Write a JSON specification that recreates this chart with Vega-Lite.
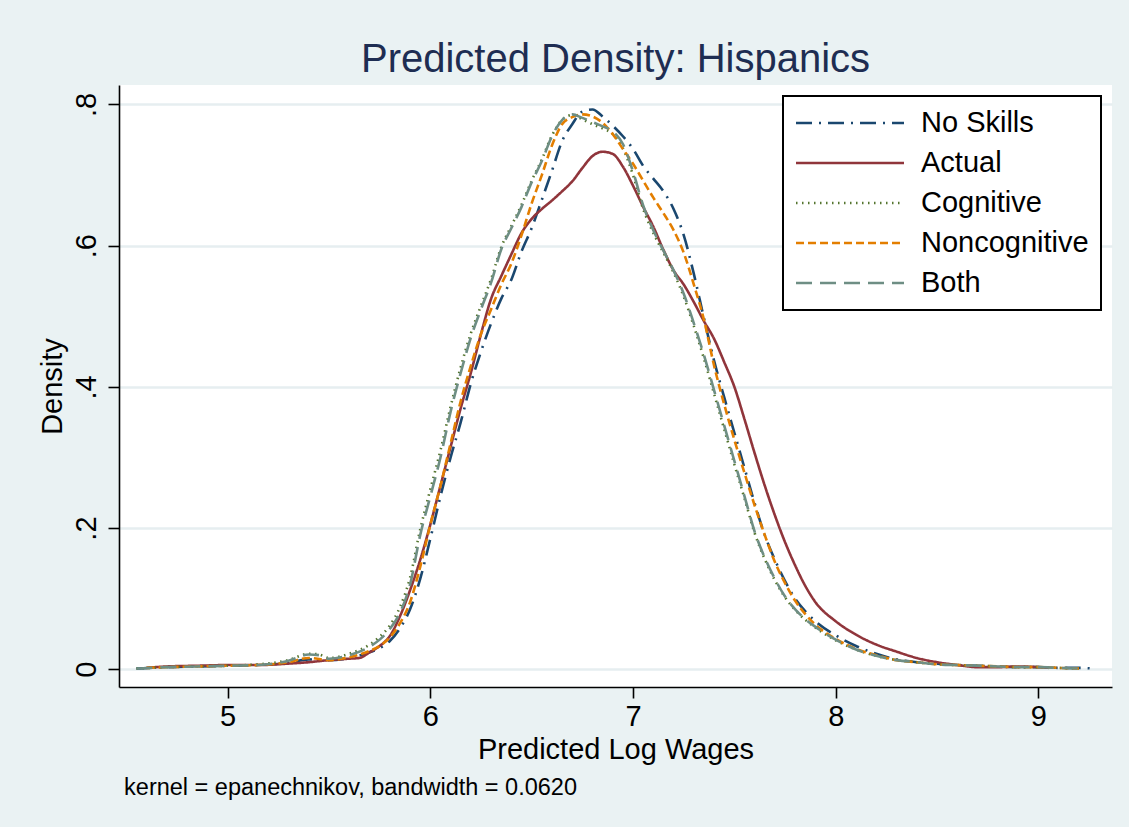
{
  "$schema": "https://vega.github.io/schema/vega-lite/v6.json",
  "width": 993,
  "height": 602,
  "autosize": {"type": "none"},
  "padding": {"left": 119, "top": 85, "right": 17, "bottom": 140},
  "background": "#EAF2F3",
  "config": {
    "font": "Liberation Sans",
    "view": {"fill": "white", "stroke": null},
    "axis": {"labelFontSize": 29, "titleFontSize": 29, "labelColor": "black", "titleColor": "black", "titleFontWeight": "normal", "domainColor": "black", "tickColor": "black", "domainWidth": 1.6, "tickWidth": 1.6, "tickSize": 11},
    "legend": {"strokeWidth": 2}
  },
  "title": {"text": "Predicted Density: Hispanics", "fontSize": 40, "fontWeight": "normal", "color": "#1E2D52", "anchor": "middle", "offset": 5},
  "layer": [
    {
      "data": {"values": [
    {"s":"No Skills","x":4.55,"y":0.001},{"s":"No Skills","x":4.7,"y":0.003},{"s":"No Skills","x":4.85,"y":0.004},{"s":"No Skills","x":5.0,"y":0.005},{"s":"No Skills","x":5.15,"y":0.006},{"s":"No Skills","x":5.3,"y":0.009},{"s":"No Skills","x":5.4,"y":0.014},{"s":"No Skills","x":5.5,"y":0.013},{"s":"No Skills","x":5.6,"y":0.016},{"s":"No Skills","x":5.7,"y":0.024},{"s":"No Skills","x":5.75,"y":0.03},{"s":"No Skills","x":5.8,"y":0.04},{"s":"No Skills","x":5.85,"y":0.058},{"s":"No Skills","x":5.9,"y":0.085},{"s":"No Skills","x":5.95,"y":0.128},{"s":"No Skills","x":6.0,"y":0.185},{"s":"No Skills","x":6.05,"y":0.245},{"s":"No Skills","x":6.1,"y":0.3},{"s":"No Skills","x":6.15,"y":0.35},{"s":"No Skills","x":6.2,"y":0.405},{"s":"No Skills","x":6.25,"y":0.45},{"s":"No Skills","x":6.3,"y":0.49},{"s":"No Skills","x":6.35,"y":0.525},{"s":"No Skills","x":6.4,"y":0.552},{"s":"No Skills","x":6.45,"y":0.592},{"s":"No Skills","x":6.5,"y":0.625},{"s":"No Skills","x":6.55,"y":0.665},{"s":"No Skills","x":6.6,"y":0.706},{"s":"No Skills","x":6.65,"y":0.748},{"s":"No Skills","x":6.7,"y":0.772},{"s":"No Skills","x":6.75,"y":0.79},{"s":"No Skills","x":6.8,"y":0.793},{"s":"No Skills","x":6.85,"y":0.783},{"s":"No Skills","x":6.9,"y":0.77},{"s":"No Skills","x":6.95,"y":0.755},{"s":"No Skills","x":7.0,"y":0.737},{"s":"No Skills","x":7.05,"y":0.713},{"s":"No Skills","x":7.1,"y":0.695},{"s":"No Skills","x":7.15,"y":0.677},{"s":"No Skills","x":7.2,"y":0.652},{"s":"No Skills","x":7.25,"y":0.615},{"s":"No Skills","x":7.3,"y":0.56},{"s":"No Skills","x":7.35,"y":0.497},{"s":"No Skills","x":7.4,"y":0.437},{"s":"No Skills","x":7.45,"y":0.385},{"s":"No Skills","x":7.5,"y":0.335},{"s":"No Skills","x":7.55,"y":0.285},{"s":"No Skills","x":7.6,"y":0.235},{"s":"No Skills","x":7.65,"y":0.19},{"s":"No Skills","x":7.7,"y":0.155},{"s":"No Skills","x":7.75,"y":0.125},{"s":"No Skills","x":7.8,"y":0.1},{"s":"No Skills","x":7.85,"y":0.082},{"s":"No Skills","x":7.9,"y":0.068},{"s":"No Skills","x":8.0,"y":0.048},{"s":"No Skills","x":8.1,"y":0.033},{"s":"No Skills","x":8.2,"y":0.022},{"s":"No Skills","x":8.3,"y":0.014},{"s":"No Skills","x":8.4,"y":0.01},{"s":"No Skills","x":8.5,"y":0.008},{"s":"No Skills","x":8.6,"y":0.006},{"s":"No Skills","x":8.7,"y":0.005},{"s":"No Skills","x":8.8,"y":0.004},{"s":"No Skills","x":8.9,"y":0.003},{"s":"No Skills","x":9.0,"y":0.003},{"s":"No Skills","x":9.1,"y":0.002},{"s":"No Skills","x":9.2,"y":0.002},{"s":"No Skills","x":9.27,"y":0.001},

    {"s":"Actual","x":4.6,"y":0.002},{"s":"Actual","x":4.7,"y":0.004},{"s":"Actual","x":4.85,"y":0.005},{"s":"Actual","x":5.0,"y":0.006},{"s":"Actual","x":5.15,"y":0.006},{"s":"Actual","x":5.3,"y":0.008},{"s":"Actual","x":5.4,"y":0.01},{"s":"Actual","x":5.5,"y":0.013},{"s":"Actual","x":5.6,"y":0.015},{"s":"Actual","x":5.65,"y":0.016},{"s":"Actual","x":5.7,"y":0.024},{"s":"Actual","x":5.75,"y":0.033},{"s":"Actual","x":5.8,"y":0.047},{"s":"Actual","x":5.85,"y":0.075},{"s":"Actual","x":5.9,"y":0.112},{"s":"Actual","x":5.95,"y":0.155},{"s":"Actual","x":6.0,"y":0.205},{"s":"Actual","x":6.05,"y":0.26},{"s":"Actual","x":6.1,"y":0.315},{"s":"Actual","x":6.15,"y":0.37},{"s":"Actual","x":6.2,"y":0.42},{"s":"Actual","x":6.25,"y":0.475},{"s":"Actual","x":6.3,"y":0.525},{"s":"Actual","x":6.35,"y":0.557},{"s":"Actual","x":6.4,"y":0.588},{"s":"Actual","x":6.45,"y":0.618},{"s":"Actual","x":6.5,"y":0.638},{"s":"Actual","x":6.55,"y":0.652},{"s":"Actual","x":6.6,"y":0.664},{"s":"Actual","x":6.65,"y":0.677},{"s":"Actual","x":6.7,"y":0.691},{"s":"Actual","x":6.75,"y":0.71},{"s":"Actual","x":6.8,"y":0.727},{"s":"Actual","x":6.85,"y":0.733},{"s":"Actual","x":6.9,"y":0.73},{"s":"Actual","x":6.95,"y":0.712},{"s":"Actual","x":7.0,"y":0.685},{"s":"Actual","x":7.05,"y":0.655},{"s":"Actual","x":7.1,"y":0.627},{"s":"Actual","x":7.15,"y":0.594},{"s":"Actual","x":7.2,"y":0.565},{"s":"Actual","x":7.25,"y":0.545},{"s":"Actual","x":7.3,"y":0.52},{"s":"Actual","x":7.35,"y":0.493},{"s":"Actual","x":7.4,"y":0.468},{"s":"Actual","x":7.45,"y":0.435},{"s":"Actual","x":7.5,"y":0.4},{"s":"Actual","x":7.55,"y":0.354},{"s":"Actual","x":7.6,"y":0.306},{"s":"Actual","x":7.65,"y":0.26},{"s":"Actual","x":7.7,"y":0.218},{"s":"Actual","x":7.75,"y":0.18},{"s":"Actual","x":7.8,"y":0.147},{"s":"Actual","x":7.85,"y":0.118},{"s":"Actual","x":7.9,"y":0.095},{"s":"Actual","x":8.0,"y":0.068},{"s":"Actual","x":8.1,"y":0.049},{"s":"Actual","x":8.2,"y":0.035},{"s":"Actual","x":8.3,"y":0.025},{"s":"Actual","x":8.4,"y":0.016},{"s":"Actual","x":8.5,"y":0.01},{"s":"Actual","x":8.6,"y":0.006},{"s":"Actual","x":8.7,"y":0.003},{"s":"Actual","x":8.8,"y":0.003},{"s":"Actual","x":8.9,"y":0.004},{"s":"Actual","x":9.0,"y":0.003},{"s":"Actual","x":9.05,"y":0.002},

    {"s":"Cognitive","x":4.55,"y":0.001},{"s":"Cognitive","x":4.7,"y":0.003},{"s":"Cognitive","x":4.85,"y":0.004},{"s":"Cognitive","x":5.0,"y":0.005},{"s":"Cognitive","x":5.15,"y":0.007},{"s":"Cognitive","x":5.3,"y":0.013},{"s":"Cognitive","x":5.4,"y":0.022},{"s":"Cognitive","x":5.45,"y":0.021},{"s":"Cognitive","x":5.5,"y":0.016},{"s":"Cognitive","x":5.6,"y":0.022},{"s":"Cognitive","x":5.7,"y":0.035},{"s":"Cognitive","x":5.75,"y":0.046},{"s":"Cognitive","x":5.8,"y":0.062},{"s":"Cognitive","x":5.85,"y":0.088},{"s":"Cognitive","x":5.9,"y":0.13},{"s":"Cognitive","x":5.95,"y":0.198},{"s":"Cognitive","x":6.0,"y":0.255},{"s":"Cognitive","x":6.05,"y":0.31},{"s":"Cognitive","x":6.1,"y":0.372},{"s":"Cognitive","x":6.15,"y":0.428},{"s":"Cognitive","x":6.2,"y":0.476},{"s":"Cognitive","x":6.25,"y":0.515},{"s":"Cognitive","x":6.3,"y":0.553},{"s":"Cognitive","x":6.35,"y":0.598},{"s":"Cognitive","x":6.4,"y":0.628},{"s":"Cognitive","x":6.45,"y":0.658},{"s":"Cognitive","x":6.5,"y":0.692},{"s":"Cognitive","x":6.55,"y":0.722},{"s":"Cognitive","x":6.6,"y":0.756},{"s":"Cognitive","x":6.65,"y":0.778},{"s":"Cognitive","x":6.7,"y":0.785},{"s":"Cognitive","x":6.75,"y":0.779},{"s":"Cognitive","x":6.8,"y":0.772},{"s":"Cognitive","x":6.85,"y":0.766},{"s":"Cognitive","x":6.9,"y":0.758},{"s":"Cognitive","x":6.95,"y":0.738},{"s":"Cognitive","x":7.0,"y":0.7},{"s":"Cognitive","x":7.05,"y":0.652},{"s":"Cognitive","x":7.1,"y":0.618},{"s":"Cognitive","x":7.15,"y":0.59},{"s":"Cognitive","x":7.2,"y":0.562},{"s":"Cognitive","x":7.25,"y":0.528},{"s":"Cognitive","x":7.3,"y":0.486},{"s":"Cognitive","x":7.35,"y":0.44},{"s":"Cognitive","x":7.4,"y":0.39},{"s":"Cognitive","x":7.45,"y":0.34},{"s":"Cognitive","x":7.5,"y":0.29},{"s":"Cognitive","x":7.55,"y":0.242},{"s":"Cognitive","x":7.6,"y":0.193},{"s":"Cognitive","x":7.65,"y":0.156},{"s":"Cognitive","x":7.7,"y":0.126},{"s":"Cognitive","x":7.75,"y":0.102},{"s":"Cognitive","x":7.8,"y":0.084},{"s":"Cognitive","x":7.85,"y":0.07},{"s":"Cognitive","x":7.9,"y":0.059},{"s":"Cognitive","x":8.0,"y":0.041},{"s":"Cognitive","x":8.1,"y":0.028},{"s":"Cognitive","x":8.2,"y":0.019},{"s":"Cognitive","x":8.3,"y":0.013},{"s":"Cognitive","x":8.4,"y":0.01},{"s":"Cognitive","x":8.5,"y":0.007},{"s":"Cognitive","x":8.6,"y":0.006},{"s":"Cognitive","x":8.7,"y":0.005},{"s":"Cognitive","x":8.8,"y":0.004},{"s":"Cognitive","x":8.9,"y":0.003},{"s":"Cognitive","x":9.0,"y":0.003},{"s":"Cognitive","x":9.1,"y":0.002},{"s":"Cognitive","x":9.2,"y":0.001},

    {"s":"Noncognitive","x":4.6,"y":0.002},{"s":"Noncognitive","x":4.7,"y":0.003},{"s":"Noncognitive","x":4.85,"y":0.004},{"s":"Noncognitive","x":5.0,"y":0.005},{"s":"Noncognitive","x":5.15,"y":0.006},{"s":"Noncognitive","x":5.3,"y":0.01},{"s":"Noncognitive","x":5.4,"y":0.016},{"s":"Noncognitive","x":5.5,"y":0.013},{"s":"Noncognitive","x":5.6,"y":0.017},{"s":"Noncognitive","x":5.7,"y":0.026},{"s":"Noncognitive","x":5.75,"y":0.033},{"s":"Noncognitive","x":5.8,"y":0.045},{"s":"Noncognitive","x":5.85,"y":0.065},{"s":"Noncognitive","x":5.9,"y":0.095},{"s":"Noncognitive","x":5.95,"y":0.145},{"s":"Noncognitive","x":6.0,"y":0.205},{"s":"Noncognitive","x":6.05,"y":0.26},{"s":"Noncognitive","x":6.1,"y":0.32},{"s":"Noncognitive","x":6.15,"y":0.38},{"s":"Noncognitive","x":6.2,"y":0.43},{"s":"Noncognitive","x":6.25,"y":0.475},{"s":"Noncognitive","x":6.3,"y":0.51},{"s":"Noncognitive","x":6.35,"y":0.545},{"s":"Noncognitive","x":6.4,"y":0.575},{"s":"Noncognitive","x":6.45,"y":0.615},{"s":"Noncognitive","x":6.5,"y":0.66},{"s":"Noncognitive","x":6.55,"y":0.7},{"s":"Noncognitive","x":6.6,"y":0.742},{"s":"Noncognitive","x":6.65,"y":0.772},{"s":"Noncognitive","x":6.7,"y":0.782},{"s":"Noncognitive","x":6.75,"y":0.786},{"s":"Noncognitive","x":6.8,"y":0.783},{"s":"Noncognitive","x":6.85,"y":0.774},{"s":"Noncognitive","x":6.9,"y":0.758},{"s":"Noncognitive","x":6.95,"y":0.737},{"s":"Noncognitive","x":7.0,"y":0.716},{"s":"Noncognitive","x":7.05,"y":0.692},{"s":"Noncognitive","x":7.1,"y":0.668},{"s":"Noncognitive","x":7.15,"y":0.646},{"s":"Noncognitive","x":7.2,"y":0.622},{"s":"Noncognitive","x":7.25,"y":0.59},{"s":"Noncognitive","x":7.3,"y":0.545},{"s":"Noncognitive","x":7.35,"y":0.495},{"s":"Noncognitive","x":7.4,"y":0.43},{"s":"Noncognitive","x":7.45,"y":0.375},{"s":"Noncognitive","x":7.5,"y":0.325},{"s":"Noncognitive","x":7.55,"y":0.278},{"s":"Noncognitive","x":7.6,"y":0.232},{"s":"Noncognitive","x":7.65,"y":0.19},{"s":"Noncognitive","x":7.7,"y":0.152},{"s":"Noncognitive","x":7.75,"y":0.122},{"s":"Noncognitive","x":7.8,"y":0.097},{"s":"Noncognitive","x":7.85,"y":0.078},{"s":"Noncognitive","x":7.9,"y":0.063},{"s":"Noncognitive","x":8.0,"y":0.043},{"s":"Noncognitive","x":8.1,"y":0.029},{"s":"Noncognitive","x":8.2,"y":0.02},{"s":"Noncognitive","x":8.3,"y":0.013},{"s":"Noncognitive","x":8.4,"y":0.01},{"s":"Noncognitive","x":8.5,"y":0.007},{"s":"Noncognitive","x":8.6,"y":0.006},{"s":"Noncognitive","x":8.7,"y":0.005},{"s":"Noncognitive","x":8.8,"y":0.004},{"s":"Noncognitive","x":8.9,"y":0.003},{"s":"Noncognitive","x":9.0,"y":0.003},{"s":"Noncognitive","x":9.1,"y":0.002},{"s":"Noncognitive","x":9.2,"y":0.001},

    {"s":"Both","x":4.55,"y":0.001},{"s":"Both","x":4.7,"y":0.003},{"s":"Both","x":4.85,"y":0.004},{"s":"Both","x":5.0,"y":0.005},{"s":"Both","x":5.15,"y":0.006},{"s":"Both","x":5.3,"y":0.012},{"s":"Both","x":5.4,"y":0.021},{"s":"Both","x":5.45,"y":0.02},{"s":"Both","x":5.5,"y":0.015},{"s":"Both","x":5.6,"y":0.02},{"s":"Both","x":5.7,"y":0.032},{"s":"Both","x":5.75,"y":0.042},{"s":"Both","x":5.8,"y":0.057},{"s":"Both","x":5.85,"y":0.08},{"s":"Both","x":5.9,"y":0.12},{"s":"Both","x":5.95,"y":0.19},{"s":"Both","x":6.0,"y":0.245},{"s":"Both","x":6.05,"y":0.3},{"s":"Both","x":6.1,"y":0.365},{"s":"Both","x":6.15,"y":0.42},{"s":"Both","x":6.2,"y":0.47},{"s":"Both","x":6.25,"y":0.51},{"s":"Both","x":6.3,"y":0.548},{"s":"Both","x":6.35,"y":0.595},{"s":"Both","x":6.4,"y":0.625},{"s":"Both","x":6.45,"y":0.655},{"s":"Both","x":6.5,"y":0.69},{"s":"Both","x":6.55,"y":0.72},{"s":"Both","x":6.6,"y":0.755},{"s":"Both","x":6.65,"y":0.778},{"s":"Both","x":6.7,"y":0.786},{"s":"Both","x":6.75,"y":0.781},{"s":"Both","x":6.8,"y":0.775},{"s":"Both","x":6.85,"y":0.769},{"s":"Both","x":6.9,"y":0.762},{"s":"Both","x":6.95,"y":0.744},{"s":"Both","x":7.0,"y":0.705},{"s":"Both","x":7.05,"y":0.657},{"s":"Both","x":7.1,"y":0.622},{"s":"Both","x":7.15,"y":0.593},{"s":"Both","x":7.2,"y":0.565},{"s":"Both","x":7.25,"y":0.532},{"s":"Both","x":7.3,"y":0.49},{"s":"Both","x":7.35,"y":0.445},{"s":"Both","x":7.4,"y":0.395},{"s":"Both","x":7.45,"y":0.345},{"s":"Both","x":7.5,"y":0.295},{"s":"Both","x":7.55,"y":0.245},{"s":"Both","x":7.6,"y":0.195},{"s":"Both","x":7.65,"y":0.158},{"s":"Both","x":7.7,"y":0.128},{"s":"Both","x":7.75,"y":0.103},{"s":"Both","x":7.8,"y":0.085},{"s":"Both","x":7.85,"y":0.071},{"s":"Both","x":7.9,"y":0.06},{"s":"Both","x":8.0,"y":0.042},{"s":"Both","x":8.1,"y":0.028},{"s":"Both","x":8.2,"y":0.019},{"s":"Both","x":8.3,"y":0.013},{"s":"Both","x":8.4,"y":0.01},{"s":"Both","x":8.5,"y":0.007},{"s":"Both","x":8.6,"y":0.006},{"s":"Both","x":8.7,"y":0.005},{"s":"Both","x":8.8,"y":0.004},{"s":"Both","x":8.9,"y":0.003},{"s":"Both","x":9.0,"y":0.003},{"s":"Both","x":9.1,"y":0.002},{"s":"Both","x":9.2,"y":0.001}
      ]},
      "mark": {"type": "line", "strokeWidth": 2.6, "interpolate": "monotone"},
      "encoding": {
        "x": {"field": "x", "type": "quantitative", "scale": {"domain": [4.464, 9.363], "nice": false, "zero": false},
              "axis": {"values": [5, 6, 7, 8, 9], "format": "d", "grid": false, "title": "Predicted Log Wages", "labelPadding": 4, "titlePadding": 4}},
        "y": {"field": "y", "type": "quantitative", "scale": {"domain": [-0.0251, 0.8276], "nice": false, "zero": false},
              "axis": {"values": [0, 0.2, 0.4, 0.6, 0.8], "grid": true, "gridColor": "#E6EEF0", "gridWidth": 2.6, "title": "Density", "labelAngle": -90, "labelPadding": 7, "titlePadding": 5,
                       "labelExpr": "datum.value == 0 ? '0' : replace(format(datum.value, '.1f'), '0.', '.')"}},
        "color": {"field": "s", "type": "nominal",
                  "scale": {"domain": ["No Skills", "Actual", "Cognitive", "Noncognitive", "Both"], "range": ["#1A476F", "#90353B", "#55752F", "#E37E00", "#6E8E84"]},
                  "legend": {"orient": "none", "legendX": 664, "legendY": 11, "title": null, "fillColor": "white", "strokeColor": "black", "padding": 12,
                             "symbolType": "M-4,0H4", "symbolSize": 729, "symbolOffset": 40, "symbolStrokeWidth": 2.6, "labelFontSize": 29, "labelColor": "black", "labelOffset": 56, "labelLimit": 400, "rowPadding": 10}},
        "strokeDash": {"field": "s", "type": "nominal",
                       "scale": {"domain": ["No Skills", "Actual", "Cognitive", "Noncognitive", "Both"], "range": [[16, 7, 2, 7], [1, 0], [1.5, 4.5], [8, 4], [16, 8]]}}
      }
    },
    {
      "data": {"values": [{}]},
      "mark": {"type": "text", "text": "kernel = epanechnikov, bandwidth = 0.0620", "align": "left", "baseline": "alphabetic", "fontSize": 23.5, "color": "black"},
      "encoding": {
        "x": {"datum": 4.489, "type": "quantitative"},
        "y": {"datum": -0.178, "type": "quantitative"}
      }
    }
  ]
}
